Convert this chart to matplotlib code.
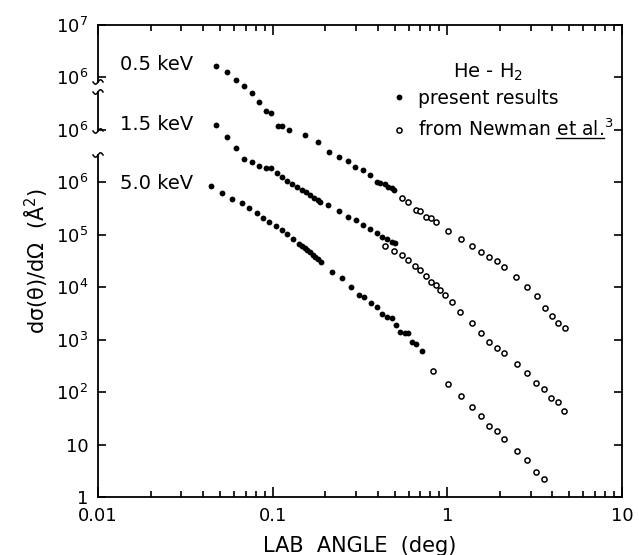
import numpy as np
import matplotlib
matplotlib.use("Agg")
import matplotlib.pyplot as plt
from matplotlib.lines import Line2D
from matplotlib.ticker import NullLocator

plt.rcParams['font.family'] = ['DejaVu Sans']
plt.rcParams['mathtext.fontset'] = 'dejavusans'
plt.rcParams['mathtext.default'] = 'regular'

# --- data (lab angle in deg, cross section in A^2) ---

# 0.5 keV, present results
ang_05 = [0.0474, 0.0548, 0.0617, 0.0685, 0.0761, 0.0835, 0.0916, 0.0978, 0.107, 0.113,
          0.124, 0.153, 0.182, 0.210, 0.240, 0.270, 0.296, 0.329, 0.361, 0.395,
          0.411, 0.439, 0.457, 0.482, 0.495]
sig_05 = [1.68e6, 1.29e6, 9.08e5, 6.98e5, 5.13e5, 3.45e5, 2.32e5, 2.13e5, 1.20e5, 1.17e5,
          1.01e5, 8.10e4, 5.96e4, 3.84e4, 3.08e4, 2.58e4, 1.99e4, 1.74e4, 1.40e4, 1.03e4,
          9.82e3, 9.40e3, 8.24e3, 7.89e3, 7.22e3]
# 0.5 keV, Newman et al.
ang_05_nw = [0.550, 0.595, 0.661, 0.697, 0.754, 0.806, 0.860, 1.008, 1.196, 1.383,
             1.557, 1.73, 1.92, 2.11, 2.47, 2.86, 3.26, 3.62, 3.97, 4.30, 4.71]
sig_05_nw = [5.08e3, 4.27e3, 3.00e3, 2.90e3, 2.21e3, 2.11e3, 1.77e3, 1.19e3, 839, 617,
             474, 380, 319, 245, 158, 102, 68.5, 40.5, 28.4, 20.9, 16.8]

# 1.5 keV, present results
ang_15 = [0.0474, 0.0548, 0.0617, 0.0685, 0.0761, 0.0835, 0.0916, 0.0978, 0.106, 0.113,
          0.121, 0.129, 0.138, 0.147, 0.155, 0.164, 0.172, 0.182, 0.187, 0.207,
          0.240, 0.270, 0.300, 0.329, 0.361, 0.395, 0.422, 0.451, 0.482, 0.501]
sig_15 = [1.26e6, 7.42e5, 4.57e5, 2.82e5, 2.47e5, 2.07e5, 1.90e5, 1.85e5, 1.52e5, 1.28e5,
          1.07e5, 9.40e4, 8.24e4, 7.22e4, 6.62e4, 5.80e4, 5.08e4, 4.66e4, 4.27e4, 3.74e4,
          2.87e4, 2.21e4, 1.93e4, 1.55e4, 1.30e4, 1.09e4, 9.16e3, 8.39e3, 7.35e3, 7.03e3]
# 1.5 keV, Newman et al.
ang_15_nw = [0.439, 0.495, 0.550, 0.595, 0.652, 0.697, 0.754, 0.806, 0.860, 0.907,
             0.969, 1.062, 1.18, 1.383, 1.557, 1.73, 1.92, 2.11, 2.50, 2.86,
             3.22, 3.57, 3.92, 4.30, 4.65]
sig_15_nw = [6.17e3, 4.95e3, 4.15e3, 3.33e3, 2.56e3, 2.15e3, 1.65e3, 1.27e3, 1.11e3, 891,
             716, 526, 340, 209, 135, 90.8, 69.8, 56.0, 34.5, 23.2,
             15.0, 11.5, 7.75, 6.50, 4.38]

# 5.0 keV, present results
ang_50 = [0.0443, 0.0513, 0.0585, 0.0667, 0.0732, 0.0813, 0.088, 0.0952, 0.1044, 0.113,
          0.121, 0.131, 0.141, 0.147, 0.153, 0.158, 0.164, 0.170, 0.175, 0.182, 0.189,
          0.219, 0.249, 0.281, 0.312, 0.333, 0.365, 0.395, 0.422, 0.451, 0.482,
          0.508, 0.536, 0.572, 0.595, 0.627, 0.661, 0.715]
sig_50 = [8.61e5, 6.34e5, 4.87e5, 4.08e5, 3.27e5, 2.63e5, 2.11e5, 1.77e5, 1.49e5, 1.25e5,
          1.045e5, 8.39e4, 6.73e4, 6.15e4, 5.65e4, 5.15e4, 4.74e4, 4.20e4, 3.80e4, 3.40e4, 3.05e4,
          1.97e4, 1.51e4, 1.02e4, 7.16e3, 6.56e3, 5.04e3, 4.23e3, 3.10e3, 2.72e3, 2.61e3,
          1.92e3, 1.41e3, 1.35e3, 1.33e3, 908, 831, 611]
# 5.0 keV, Newman et al.
ang_50_nw = [0.827, 1.008, 1.196, 1.383, 1.557, 1.73, 1.92, 2.11, 2.50, 2.86, 3.22, 3.57]
sig_50_nw = [254, 143, 84.6, 52.2, 35.1, 22.6, 18.2, 12.8, 7.55, 5.08, 3.00, 2.21]

# each energy is shifted by a decade on the broken axis
energies = ["0.5 keV", "1.5 keV", "5.0 keV"]
shift = [100, 10, 1]

ytick_vals = [1e0, 1e1, 1e2, 1e3, 1e4, 1e5, 1e6, 1e7, 1e8, 1e9]
ytick_labels = ['1', '10', '$10^2$', '$10^3$', '$10^4$', '$10^5$',
                '$10^6$', '$10^6$', '$10^6$', '$10^7$']
xtick_vals = [0.01, 0.1, 1, 10]
xtick_labels = ['0.01', '0.1', '1', '10']


fig = plt.figure(figsize=(6.39, 5.55), dpi=100)
ax = fig.add_axes([0.1534, 0.1045, 0.8200, 0.8505])

series = [(ang_05, sig_05, ang_05_nw, sig_05_nw),
          (ang_15, sig_15, ang_15_nw, sig_15_nw),
          (ang_50, sig_50, ang_50_nw, sig_50_nw)]
for (a, s, a_nw, s_nw), k in zip(series, shift):
    ax.plot(a, np.array(s) * k, 'o', color='black', ms=4.2, mew=0)
    ax.plot(a_nw, np.array(s_nw) * k, 'o', mfc='white', mec='black', ms=3.7, mew=1.1)

ax.set_xscale('log')
ax.set_yscale('log')
ax.set_xlim(0.01, 10)
ax.set_ylim(1, 1e9)

ax.set_yticks(ytick_vals)
ax.set_yticklabels(ytick_labels, fontsize=13)
ax.yaxis.set_minor_locator(NullLocator())
ax.set_xticks(xtick_vals)
ax.set_xticklabels(xtick_labels, fontsize=13)

ax.tick_params(which='major', direction='in', top=True, right=True, length=7, width=1.2, pad=7)
ax.tick_params(which='minor', direction='in', top=True, length=4.5, width=1.2)
ax.tick_params(axis='y', which='major', length=6)

for sp in ['top', 'right', 'bottom']:
    ax.spines[sp].set_linewidth(1.3)
ax.spines['left'].set_visible(False)

# broken left axis, drawn by hand
H, W = 472.0, 524.0
segs = [(25, 82), (92, 131), (155, 497)]
for p0, p1 in segs:
    ax.plot([0, 0], [(497 - p0) / H, (497 - p1) / H], color='black', lw=1.3,
            transform=ax.transAxes, clip_on=False)
sx = np.linspace(-5, 5, 25)
sy = 2.2 * np.sin(np.pi * sx / 5)
for p in [82, 92, 131, 155]:
    ax.plot(sx / W, (497 - p) / H + sy / H, color='black', lw=1.1,
            transform=ax.transAxes, clip_on=False)

# energy labels
lab_y = [65, 125, 184]
for name, py in zip(energies, lab_y):
    ax.text((193 - 98) / W, (497 - py) / H, name, transform=ax.transAxes,
            ha='right', va='center', fontsize=14)

ax.text((488 - 98) / W, (497 - 72) / H, 'He - H$_2$', transform=ax.transAxes,
        ha='center', va='center', fontsize=14)

handles = [Line2D([], [], ls='none', marker='o', color='black', ms=4.2, mew=0),
           Line2D([], [], ls='none', marker='o', mfc='white', mec='black', ms=3.7, mew=1.1)]
leg = ax.legend(handles, ['present results', 'from Newman et al.$^3$'],
                loc='upper left', bbox_to_anchor=(0.56, 0.865), frameon=False,
                fontsize=13.5, handlelength=0.8, handletextpad=0.6,
                labelspacing=0.6, borderpad=0, borderaxespad=0)

ax.set_xlabel('LAB  ANGLE  (deg)', fontsize=15, labelpad=8)
ax.set_ylabel(r'd$\sigma$($\theta$)/d$\Omega$  (Å$^2$)', fontsize=15, labelpad=4)

# underline "et al."
fig.canvas.draw()
rend = fig.canvas.get_renderer()
txt = leg.get_texts()[1]
bb = txt.get_window_extent(rend)
tmp = fig.text(0, 0, 'from Newman et al.', fontproperties=txt.get_fontproperties())
w_a = tmp.get_window_extent(rend).width
tmp.set_text('et al.')
w_b = tmp.get_window_extent(rend).width
tmp.remove()
inv = fig.transFigure.inverted()
(ux0, uy), (ux1, _) = inv.transform([(bb.x0 + w_a - w_b, bb.y0 + 2), (bb.x0 + w_a, bb.y0 + 2)])
fig.add_artist(Line2D([ux0, ux1], [uy, uy], color='black', lw=1.0, transform=fig.transFigure))

fig.savefig('out.png', dpi=100)
